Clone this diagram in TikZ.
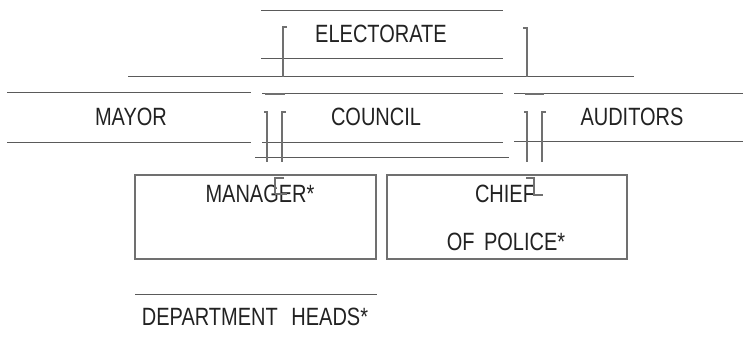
\documentclass[tikz,border=0pt]{standalone}
\usepackage{fontspec}
\newfontfamily\condfont[FakeStretch=0.8]{Liberation Sans}
\definecolor{ink}{HTML}{222222}
\definecolor{rule}{HTML}{5A5A5A}
\definecolor{brk}{HTML}{707070}
\begin{document}
\begin{tikzpicture}[x=1pt,y=-1pt,
  lbl/.style={inner sep=0pt,text=ink,font=\condfont\fontsize{25}{29}\selectfont},
  hline/.style={draw=rule,line width=0.9pt},
  brkline/.style={draw=brk,line width=1.3pt},
  dashmark/.style={draw=brk,line width=2pt},
  boxline/.style={draw=brk,line width=1.4pt,inner sep=0pt}]
\useasboundingbox (0,0) rectangle (743,341);
% text nodes
\node[lbl] (elect) at (381,34) {ELECTORATE};
\node[lbl] (mayor) at (131,117) {MAYOR};
\node[lbl] (council) at (376,117) {COUNCIL};
\node[lbl] (aud) at (632,117) {AUDITORS};
\node[lbl] (mgr) at (260,193.5) {MANAGER*};
\node[lbl] (chief) at (505,193.5) {CHIEF};
\node[lbl] (police) at (506,242) {OF\hspace{4pt} POLICE*};
\node[lbl] (dept) at (255,317) {DEPARTMENT\hspace{8pt} HEADS*};
% boxes
\draw[boxline] (135,175) rectangle (376,259);
\draw[boxline] (387,175) rectangle (627,259);
% horizontal rules
\draw[hline] (261,10) -- (503,10);
\draw[hline] (261,58) -- (503,58);
\draw[hline] (128,76) -- (634,76);
\draw[hline] (7,92) -- (251,92);
\draw[hline] (262,93) -- (503,93);
\draw[hline] (514,93) -- (743,93);
\draw[hline] (7,142) -- (251,142);
\draw[hline] (262,142) -- (503,142);
\draw[hline] (514,141) -- (743,141);
\draw[hline] (255,157) -- (509,157);
\draw[hline] (135,294) -- (377,294);
% brackets
\draw[brkline] (287,27) -- (283,27) -- (283,77);
\draw[brkline] (523,28) -- (527,28) -- (527,77);
\draw[dashmark] (265,94) -- (285,94);
\draw[dashmark] (525,94) -- (544,94);
\draw[brkline] (264,112) -- (267,112) -- (267,162);
\draw[brkline] (286,112) -- (282,112) -- (282,162);
\draw[brkline] (524,112) -- (527,112) -- (527,162);
\draw[brkline] (546,112) -- (542,112) -- (542,162);
\draw[brkline] (284,178) -- (275,178) -- (275,194);
\draw[brkline] (275,194) -- (287,194);
\draw[brkline] (526,178) -- (534,178) -- (534,195) -- (543,195);
\end{tikzpicture}
\end{document}
